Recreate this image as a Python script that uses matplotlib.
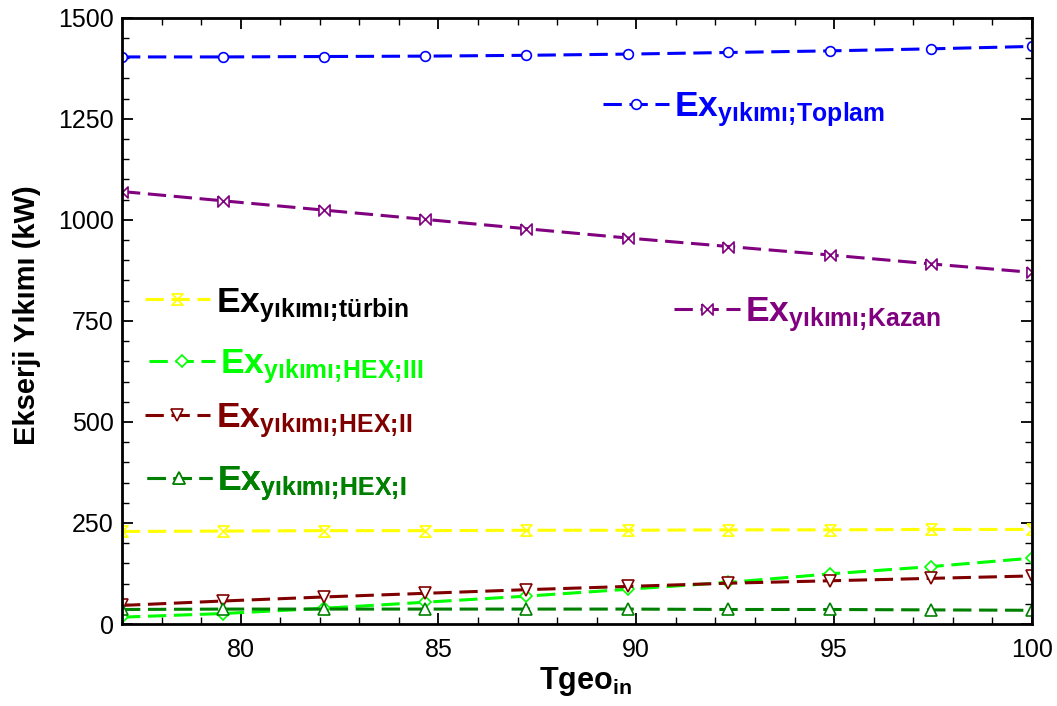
import matplotlib
matplotlib.use('Agg')
import matplotlib.pyplot as plt
from matplotlib.ticker import MultipleLocator

plt.rcParams['font.family'] = ['Liberation Sans', 'DejaVu Sans']
plt.rcParams['mathtext.fontset'] = 'custom'
plt.rcParams['mathtext.rm'] = 'Liberation Sans'
plt.rcParams['mathtext.bf'] = 'Liberation Sans:bold'
plt.rcParams['mathtext.it'] = 'Liberation Sans:italic'

# veriler
tgeo_in = [77.0, 79.56, 82.11, 84.67, 87.22, 89.78, 92.33, 94.89, 97.44, 100.0]
ex_toplam = [1403, 1403, 1404, 1405, 1407, 1410, 1414, 1418, 1423, 1429]
ex_kazan = [1070, 1047, 1024, 1001, 978, 955, 934, 913, 891, 870]
ex_turbin = [229, 230, 231, 231, 232, 232, 233, 233, 234, 234]
ex_hex3 = [17, 26, 39, 54, 69, 86, 103, 124, 142, 163]
ex_hex2 = [46, 57, 67, 76, 85, 93, 101, 107, 113, 119]
ex_hex1 = [36, 37, 37, 37, 37, 37, 36, 36, 35, 34]

names = ['Toplam', 'Kazan', 'türbin', 'HEX;\\!III', 'HEX;\\!II', 'HEX;\\!I']

# ozel isaretler
kum_saati = [(-1, 1), (1, 1), (-1, -1), (1, -1), (-1, 1)]
papyon = [(-1, 1), (1, -1), (1, 1), (-1, -1), (-1, 1)]

series = [
    (ex_toplam, '#0000FF', 'o', 7, '#0000FF', (0.529, 0.848)),
    (ex_kazan, '#800080', papyon, 8, '#800080', (0.607, 0.510)),
    (ex_turbin, '#FFFF00', kum_saati, 8, 'black', (0.025, 0.526)),
    (ex_hex3, '#00FF00', 'D', 6, '#00FF00', (0.030, 0.425)),
    (ex_hex2, '#800000', 'v', 8, '#800000', (0.025, 0.335)),
    (ex_hex1, '#008000', '^', 8, '#008000', (0.027, 0.231)),
]

fig = plt.figure(figsize=(10.57, 7.06), dpi=100)
ax = fig.add_axes([0.1154, 0.1161, 0.8609, 0.8588])

for (vals, col, mk, ms, tcol, anchor), name in zip(series, names):
    line, = ax.plot(tgeo_in, vals, color=col, lw=2.2, dashes=(6, 2.5),
                    marker=mk, ms=ms, mfc='white', mec=col, mew=1.2)
    lbl = r'$\mathbf{Ex}_{\mathbf{yıkımı;\!' + name + '}}$'
    leg = ax.legend(handles=[line], labels=[lbl], loc='center left',
                    bbox_to_anchor=anchor, frameon=False, fontsize=25.5,
                    handlelength=1.85, handletextpad=0.15, borderpad=0,
                    borderaxespad=0, numpoints=1, labelcolor=tcol)
    ax.add_artist(leg)

ax.set_xlim(77, 100)
ax.set_ylim(0, 1500)
ax.set_xticks([80, 85, 90, 95, 100])
ax.set_yticks([0, 250, 500, 750, 1000, 1250, 1500])
ax.xaxis.set_minor_locator(MultipleLocator(1))
ax.yaxis.set_minor_locator(MultipleLocator(50))
ax.tick_params(which='both', direction='in', top=True, right=True, labelsize=18)
ax.tick_params(which='major', length=8, width=1.3)
ax.tick_params(which='minor', length=5, width=1.0)
ax.tick_params(axis='x', pad=10)
ax.tick_params(axis='y', pad=6)
for sp in ax.spines.values():
    sp.set_linewidth(2)

ax.set_xlabel(r'$\mathbf{Tgeo}_{\mathbf{in}}$', fontsize=22)
ax.set_ylabel('Ekserji Yıkımı (kW)', fontsize=21, fontweight='bold')
ax.xaxis.set_label_coords(0.509, -0.068)
ax.yaxis.set_label_coords(-0.089, 0.51)

fig.savefig('out.png', dpi=100)
